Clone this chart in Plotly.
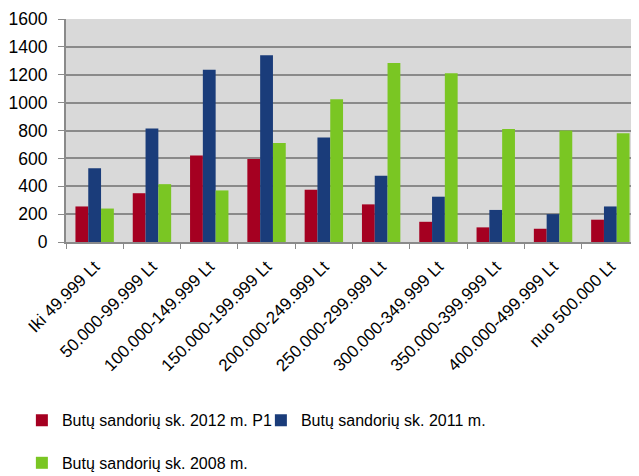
import plotly.graph_objects as go

categories = ["Iki 49.999 Lt", "50.000-99.999 Lt", "100.000-149.999 Lt", "150.000-199.999 Lt",
              "200.000-249.999 Lt", "250.000-299.999 Lt", "300.000-349.999 Lt",
              "350.000-399.999 Lt", "400.000-499.999 Lt", "nuo 500.000 Lt"]
s2012 = [255, 350, 620, 595, 375, 270, 145, 105, 95, 160]
s2011 = [530, 815, 1235, 1340, 750, 475, 325, 230, 200, 255]
s2008 = [240, 415, 370, 710, 1025, 1285, 1210, 810, 800, 780]
names = ["Butų sandorių sk. 2012 m. P1", "Butų sandorių sk. 2011 m.", "Butų sandorių sk. 2008 m."]
colors = ["#a50021", "#1a3c7a", "#7ac623"]

FONT = "Liberation Sans, Arial, sans-serif"

fig = go.Figure()
for vals, name, col, lg in zip([s2012, s2011, s2008], names, colors, ["legend", "legend", "legend2"]):
    fig.add_trace(go.Bar(x=categories, y=vals, name=name, marker=dict(color=col, line=dict(width=0)),
                         legend=lg))

# page body has an 8px margin; figure is sized so it ends at the window edge
fig.update_layout(
    width=631, height=468,
    margin=dict(l=58, r=0, t=11, b=234),
    paper_bgcolor="white", plot_bgcolor="#d9d9d9",
    barmode="group", bargap=0.33, bargroupgap=0,
    font=dict(family=FONT, size=17, color="black"),
    showlegend=True,
    legend=dict(orientation="h", x=0.022, xanchor="left", y=0.119, yanchor="middle",
                yref="container", xref="container",
                font=dict(size=16), bgcolor="rgba(0,0,0,0)", itemwidth=30,
                entrywidth=194, tracegroupgap=0),
    legend2=dict(orientation="h", x=0.022, xanchor="left", y=0.028, yanchor="middle",
                 yref="container", xref="container",
                 font=dict(size=16), bgcolor="rgba(0,0,0,0)", itemwidth=30),
)
fig.update_yaxes(range=[0, 1600], dtick=200, showgrid=True, gridcolor="#8a8a8a", gridwidth=2,
                 showline=True, linecolor="#8a8a8a", linewidth=2,
                 ticks="outside", ticklen=6, tickcolor="#8a8a8a", ticklabelstandoff=7,
                 tickfont=dict(size=17.5), zeroline=False, automargin=False)
fig.update_xaxes(tickangle=-45, showline=True, linecolor="#8a8a8a", linewidth=2,
                 ticks="outside", ticklen=5, tickcolor="#8a8a8a", tickson="boundaries",
                 ticklabelstandoff=6, tickfont=dict(size=17), showgrid=False, automargin=False)

fig.write_html("out.html")
